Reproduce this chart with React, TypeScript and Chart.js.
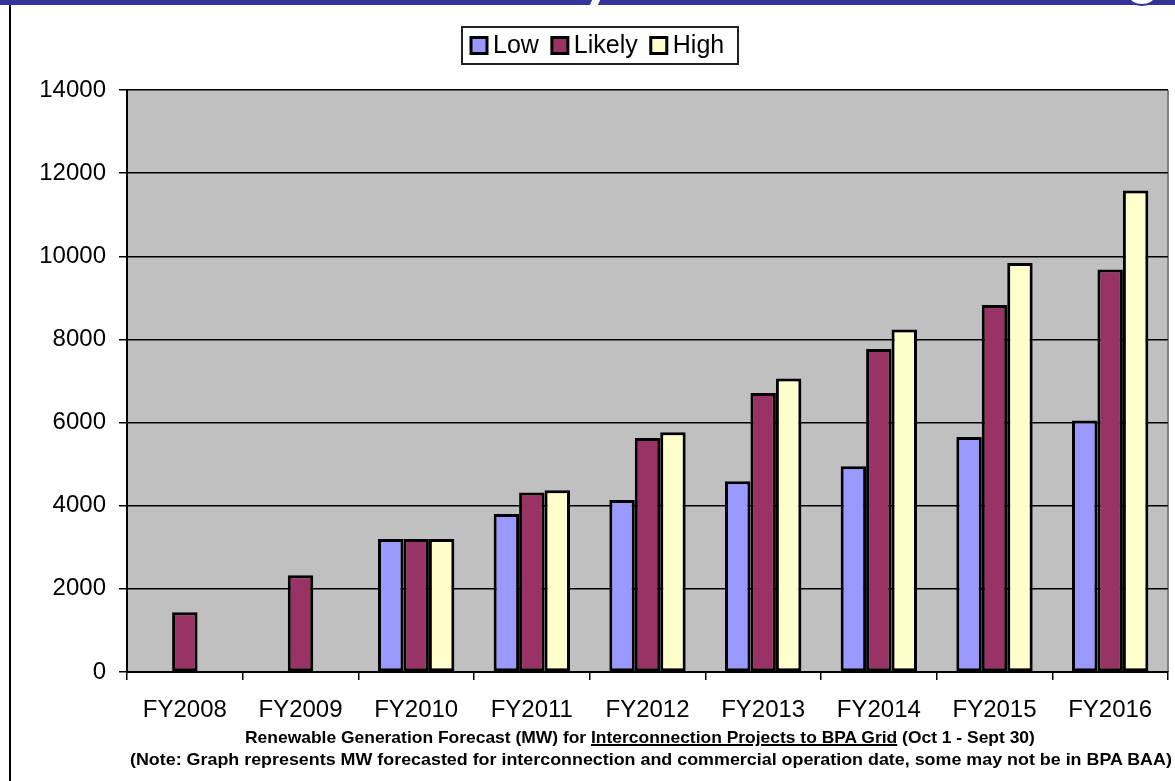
import React, { useEffect, useRef } from "react";
import { Chart, registerables } from "chart.js";

Chart.register(...registerables);

const categories = ["FY2008", "FY2009", "FY2010", "FY2011", "FY2012", "FY2013", "FY2014", "FY2015", "FY2016"];
const lowValues = [null, null, 3200, 3800, 4140, 4590, 4950, 5650, 6050];
const likelyValues = [1440, 2330, 3200, 4320, 5630, 6710, 7770, 8830, 9680];
const highValues = [null, null, 3200, 4370, 5770, 7060, 8240, 9840, 11580];
const seriesNames = ["Low", "Likely", "High"];
const seriesColors = ["#9999FF", "#993366", "#FFFFCC"];
const yTicks = [0, 2000, 4000, 6000, 8000, 10000, 12000, 14000];
const titleLine1a = "Renewable Generation Forecast (MW) for ";
const titleLine1b = "Interconnection Projects to BPA Grid";
const titleLine1c = " (Oct 1 - Sept 30)";
const titleLine2 = "(Note: Graph represents MW forecasted for interconnection and commercial operation date, some may not be in BPA BAA)";

const FONT = '"Liberation Sans", Arial, sans-serif';

const plotBgPlugin = {
  id: "plotBg",
  beforeDraw(chart: any) {
    const { ctx, chartArea } = chart;
    ctx.save();
    ctx.fillStyle = "#C0C0C0";
    ctx.fillRect(chartArea.left, chartArea.top, chartArea.right - chartArea.left, chartArea.bottom - chartArea.top);
    ctx.strokeStyle = "#808080";
    ctx.lineWidth = 2;
    ctx.beginPath();
    ctx.moveTo(chartArea.right, chartArea.top);
    ctx.lineTo(chartArea.right, chartArea.bottom);
    ctx.stroke();
    ctx.restore();
  },
};

const boxLegendPlugin = {
  id: "boxLegend",
  afterDraw(chart: any) {
    const { ctx } = chart;
    ctx.save();
    const left = 462, top = 27, w = 276, h = 37;
    ctx.fillStyle = "#FFFFFF";
    ctx.fillRect(left, top, w, h);
    ctx.strokeStyle = "#222";
    ctx.lineWidth = 2;
    ctx.strokeRect(left, top, w, h);
    ctx.font = `25px ${FONT}`;
    ctx.textBaseline = "middle";
    let x = left + 9;
    const cy = top + h / 2;
    chart.data.datasets.forEach((ds: any) => {
      ctx.fillStyle = ds.backgroundColor;
      ctx.fillRect(x, cy - 8, 16, 16);
      ctx.strokeStyle = "#000";
      ctx.lineWidth = 3;
      ctx.strokeRect(x, cy - 8, 16, 16);
      ctx.fillStyle = "#000";
      ctx.fillText(ds.label, x + 22, cy + 1);
      x += 22 + ctx.measureText(ds.label).width + 13;
    });
    ctx.restore();
  },
};

function FitText({ left, top, width, children }: any) {
  const ref = useRef<HTMLDivElement>(null);
  useEffect(() => {
    const el = ref.current;
    if (!el) return;
    el.style.transform = "none";
    const w = el.scrollWidth;
    if (w > 0) el.style.transform = `scaleX(${width / w})`;
  }, [width]);
  return (
    <div
      ref={ref}
      style={{
        position: "absolute",
        left,
        top,
        whiteSpace: "nowrap",
        transformOrigin: "0 0",
        fontFamily: '"Liberation Sans Narrow", "Liberation Sans", Arial, sans-serif',
        fontWeight: "bold",
        fontSize: 17,
        lineHeight: "18px",
        color: "#000",
      }}
    >
      {children}
    </div>
  );
}

export default function App() {
  const canvasRef = useRef<HTMLCanvasElement>(null);

  useEffect(() => {
    const canvas = canvasRef.current;
    if (!canvas) return;
    const chart = new Chart(canvas, {
      type: "bar",
      data: {
        labels: categories,
        datasets: [lowValues, likelyValues, highValues].map((vals, i) => ({
          label: seriesNames[i],
          data: vals as any,
          backgroundColor: seriesColors[i],
          borderColor: "#000",
          borderWidth: 3,
          borderSkipped: false as any,
          barPercentage: 1,
          categoryPercentage: 0.66,
        })),
      },
      options: {
        responsive: false,
        animation: false,
        devicePixelRatio: 1,
        layout: { padding: { top: 90, left: 0, right: 7, bottom: 49 } },
        plugins: {
          legend: { display: false },
          tooltip: { enabled: false },
          title: { display: false },
        },
        scales: {
          x: {
            offset: true,
            grid: {
              offset: true,
              drawOnChartArea: false,
              drawTicks: true,
              tickLength: 8,
              color: "#000",
              lineWidth: 1.5,
            },
            border: { display: true, color: "#000", width: 2 },
            ticks: {
              color: "#000",
              font: { family: FONT, size: 24 },
              padding: 16,
              maxRotation: 0,
              autoSkip: false,
            },
            afterFit(scale: any) {
              scale.height = 60;
            },
          },
          y: {
            min: 0,
            max: 14000,
            afterBuildTicks(scale: any) {
              scale.ticks = yTicks.map((v) => ({ value: v }));
            },
            grid: {
              color: "#000",
              lineWidth: 1.5,
              drawTicks: true,
              tickLength: 8,
            },
            border: { display: true, color: "#000", width: 2 },
            ticks: {
              color: "#000",
              font: { family: FONT, size: 24 },
              padding: 13,
              callback: (v: any) => String(v),
            },
            afterFit(scale: any) {
              scale.width = 127;
            },
          },
        },
      },
      plugins: [plotBgPlugin, boxLegendPlugin],
    });
    return () => chart.destroy();
  }, []);

  return (
    <div style={{ position: "fixed", left: 0, top: 0, width: 1175, height: 781, background: "#fff", overflow: "hidden" }}>
      <div style={{ position: "absolute", left: 0, top: 0, width: 1175, height: 5, background: "#333399" }} />
      <div style={{ position: "absolute", left: 591, top: -2, width: 8, height: 9, background: "#fff", transform: "skewX(-25deg)" }} />
      <div style={{ position: "absolute", left: 1128, top: -12, width: 28, height: 18, borderRadius: "50%", background: "#fff", border: "2px solid #333399", boxSizing: "border-box" }} />
      <div style={{ position: "absolute", left: 9, top: 5, width: 2, height: 776, background: "#000" }} />
      <canvas ref={canvasRef} width={1175} height={781} style={{ position: "absolute", left: 0, top: 0, display: "block" }} />
      <FitText left={245} top={729} width={790}>
        {titleLine1a}
        <span style={{ textDecoration: "underline", textDecorationThickness: 2 }}>{titleLine1b}</span>
        {titleLine1c}
      </FitText>
      <FitText left={130} top={751} width={1042}>
        {titleLine2}
      </FitText>
    </div>
  );
}
